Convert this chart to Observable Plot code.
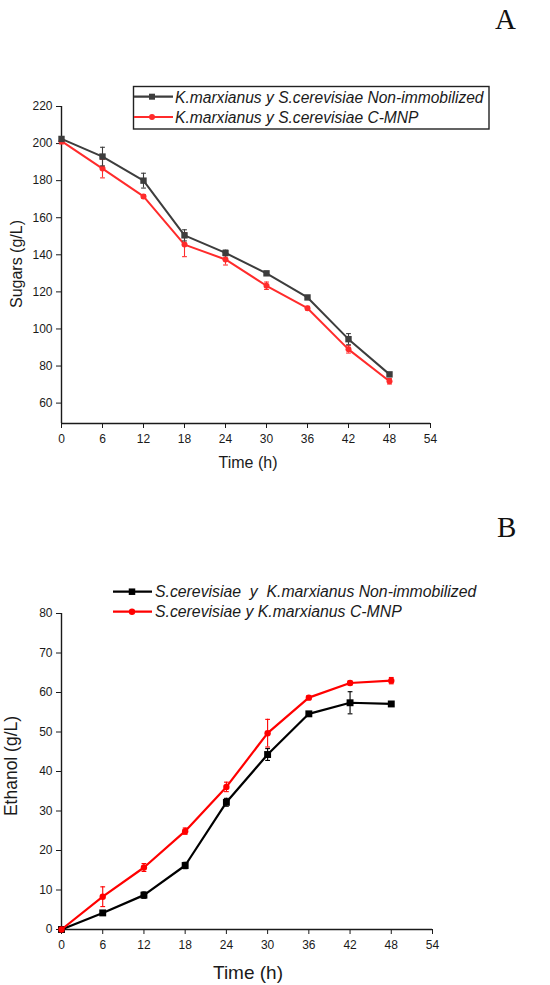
<!DOCTYPE html>
<html>
<head>
<meta charset="utf-8">
<script src="https://cdn.jsdelivr.net/npm/d3@7"></script>
<script src="https://cdn.jsdelivr.net/npm/@observablehq/plot@0.6"></script>
<style>
  html, body { margin: 0; padding: 0; background: #fff; }
  #wrap { position: relative; width: 550px; height: 985px; overflow: hidden; }
  #chartA { position: absolute; left: 0; top: 0; }
  #chartB { position: absolute; left: 0; top: 480px; }
  #overlay { position: absolute; left: 0; top: 0; pointer-events: none; }
</style>
</head>
<body>
<div id="wrap">
  <div id="chartA"></div>
  <div id="chartB"></div>
  <svg id="overlay" width="550" height="985" xmlns="http://www.w3.org/2000/svg">
    <g font-family="'Liberation Serif', 'Times New Roman', serif" font-size="29" fill="#111">
      <text x="495" y="29">A</text>
      <text x="497" y="537">B</text>
    </g>
    <g font-family="'Liberation Sans', Arial, sans-serif" fill="#1a1a1a">
      <text x="248" y="468" font-size="16" text-anchor="middle">Time (h)</text>
      <text x="248" y="979" font-size="19" text-anchor="middle">Time (h)</text>
      <text transform="translate(22,264) rotate(-90)" font-size="16" text-anchor="middle">Sugars (g/L)</text>
      <text transform="translate(17,766) rotate(-90)" font-size="17.5" text-anchor="middle">Ethanol (g/L)</text>
    </g>
    <g id="legA" font-family="'Liberation Sans', Arial, sans-serif" font-style="italic" font-size="15.6" fill="#1a1a1a"></g>
    <g id="legB" font-family="'Liberation Sans', Arial, sans-serif" font-style="italic" font-size="15.8" fill="#1a1a1a"></g>
  </svg>
</div>
<script>
// ---------- Data ----------
const hours = [0, 6, 12, 18, 24, 30, 36, 42, 48];
const xTicks = [0, 6, 12, 18, 24, 30, 36, 42, 48, 54];

const sugarTicks = [60, 80, 100, 120, 140, 160, 180, 200, 220];
const sugarNonImm    = [202.5, 193, 180, 150.5, 141, 130, 117, 94.5, 75.5];
const sugarNonImmErr = [1, 5, 4, 3, 1.5, 1, 1, 3, 1];
const sugarCMNP      = [201.3, 186.5, 171.5, 145.5, 137.5, 123.3, 111.2, 89, 71.8];
const sugarCMNPErr   = [1.5, 5, 1, 6.5, 3, 2, 1, 2, 1.5];

const ethTicks = [0, 10, 20, 30, 40, 50, 60, 70, 80];
const ethNonImm    = [0, 4.2, 8.7, 16.2, 32.2, 44.3, 54.6, 57.4, 57.1];
const ethNonImmErr = [0, 0.5, 0.8, 0.8, 1, 1.5, 0.5, 2.8, 0.5];
const ethCMNP      = [0, 8.3, 15.7, 24.9, 36.1, 49.7, 58.7, 62.4, 63];
const ethCMNPErr   = [0, 2.5, 1, 0.8, 1.2, 3.5, 0.5, 0.5, 0.8];

const legendA = ["K.marxianus y S.cerevisiae Non-immobilized", "K.marxianus y S.cerevisiae C-MNP"];
const legendB = ["S.cerevisiae  y  K.marxianus Non-immobilized", "S.cerevisiae y K.marxianus C-MNP"];

// ---------- Helpers ----------
const rows = (vals, errs) => hours.map((t, i) => ({t, v: vals[i], e: errs[i]}));
const capHalf = 0.35;

function seriesMarks(data, color, symbol, r, sw) {
  const withErr = data.filter(d => d.e > 0);
  return [
    Plot.ruleX(withErr, {x: "t", y1: d => d.v - d.e, y2: d => d.v + d.e, stroke: color, strokeWidth: 1.1}),
    Plot.link(withErr, {x1: d => d.t - capHalf, x2: d => d.t + capHalf, y1: d => d.v + d.e, y2: d => d.v + d.e, stroke: color, strokeWidth: 1.1}),
    Plot.link(withErr, {x1: d => d.t - capHalf, x2: d => d.t + capHalf, y1: d => d.v - d.e, y2: d => d.v - d.e, stroke: color, strokeWidth: 1.1}),
    Plot.line(data, {x: "t", y: "v", stroke: color, strokeWidth: sw}),
    Plot.dot(data, {x: "t", y: "v", fill: color, stroke: "none", symbol, r})
  ];
}

const baseStyle = {fontFamily: "'Liberation Sans', Arial, sans-serif", fontSize: "12px", color: "#1a1a1a", background: "transparent", overflow: "visible"};

// ---------- Chart A ----------
const chartA = Plot.plot({
  width: 550, height: 480,
  marginLeft: 61, marginRight: 120, marginTop: 106, marginBottom: 57,
  x: {domain: [0, 54]},
  y: {domain: [49, 220]},
  style: baseStyle,
  marks: [
    Plot.axisX({ticks: xTicks, tickSize: 5, tickPadding: 6, label: null, tickFormat: d => String(d), stroke: "#1a1a1a"}),
    Plot.axisY({ticks: sugarTicks, tickSize: 5, tickPadding: 4, label: null, tickFormat: d => String(d), stroke: "#1a1a1a"}),
    Plot.ruleX([0], {stroke: "#1a1a1a", strokeWidth: 1.4}),
    Plot.ruleY([49], {stroke: "#1a1a1a", strokeWidth: 1.4}),
    ...seriesMarks(rows(sugarCMNP, sugarCMNPErr), "#ff2b2b", "circle", 3, 2),
    ...seriesMarks(rows(sugarNonImm, sugarNonImmErr), "#3d3d3d", "square", 3.6, 2)
  ]
});
document.getElementById("chartA").appendChild(chartA);

// ---------- Chart B ----------
const chartB = Plot.plot({
  width: 550, height: 505,
  marginLeft: 61, marginRight: 118, marginTop: 133, marginBottom: 56,
  x: {domain: [0, 54]},
  y: {domain: [0, 80]},
  style: baseStyle,
  marks: [
    Plot.axisX({ticks: xTicks, tickSize: 5, tickPadding: 6, label: null, tickFormat: d => String(d), stroke: "#1a1a1a"}),
    Plot.axisY({ticks: ethTicks, tickSize: 5, tickPadding: 4, label: null, tickFormat: d => String(d), stroke: "#1a1a1a"}),
    Plot.ruleX([0], {stroke: "#1a1a1a", strokeWidth: 1.4}),
    Plot.ruleY([0], {stroke: "#1a1a1a", strokeWidth: 1.4}),
    ...seriesMarks(rows(ethNonImm, ethNonImmErr), "#000000", "square", 3.9, 2.2),
    ...seriesMarks(rows(ethCMNP, ethCMNPErr), "#ff0000", "circle", 3.2, 2.2)
  ]
});
document.getElementById("chartB").appendChild(chartB);

// ---------- Legends ----------
const NS = "http://www.w3.org/2000/svg";
function el(parent, tag, attrs, text) {
  const e = document.createElementNS(NS, tag);
  for (const k in attrs) e.setAttribute(k, attrs[k]);
  if (text != null) e.textContent = text;
  parent.appendChild(e);
  return e;
}
function legend(g, labels, colors, shapes, cfg) {
  labels.forEach((lab, i) => {
    const cy = cfg.rowY[i];
    el(g, "line", {x1: cfg.x1, x2: cfg.x2, y1: cy, y2: cy, stroke: colors[i], "stroke-width": 2.2});
    if (shapes[i] === "square") {
      const s = cfg.sq;
      el(g, "rect", {x: cfg.mx - s / 2, y: cy - s / 2, width: s, height: s, fill: colors[i]});
    } else {
      el(g, "circle", {cx: cfg.mx, cy, r: cfg.cr, fill: colors[i]});
    }
    const t = el(g, "text", {x: cfg.tx, y: cfg.base[i]}, lab);
    t.style.whiteSpace = "pre";
  });
}
const legA = document.getElementById("legA");
el(legA, "rect", {x: 133.5, y: 86.5, width: 355.5, height: 42.5, fill: "#fff", stroke: "#222", "stroke-width": 1.4});
legend(legA, legendA, ["#3d3d3d", "#ff2b2b"], ["square", "circle"],
  {x1: 134, x2: 173, mx: 152, rowY: [96.7, 117], base: [103, 123.3], tx: 175, sq: 6, cr: 3});

const legB = document.getElementById("legB");
legend(legB, legendB, ["#000000", "#ff0000"], ["square", "circle"],
  {x1: 113, x2: 152, mx: 132, rowY: [591.7, 611.7], base: [597, 617], tx: 155, sq: 6.5, cr: 3.2});
</script>
</body>
</html>
